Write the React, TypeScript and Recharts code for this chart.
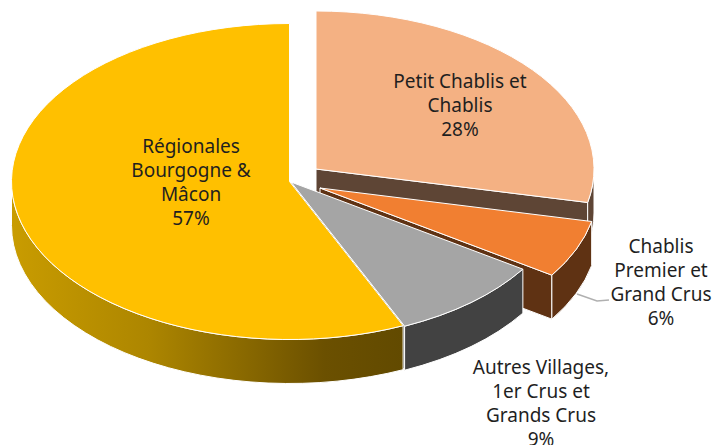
import { PieChart, Pie } from "recharts";

const categories = [
  "Petit Chablis et Chablis",
  "Chablis Premier et Grand Crus",
  "Autres Villages, 1er Crus et Grands Crus",
  "Régionales Bourgogne & Mâcon",
];
const labelLines = [
  ["Petit Chablis et", "Chablis"],
  ["Chablis", "Premier et", "Grand Crus"],
  ["Autres Villages,", "1er Crus et", "Grands Crus"],
  ["Régionales", "Bourgogne &", "Mâcon"],
];
const shares = [28.4, 5.9, 9.0, 56.7];
const percentLabels = ["28%", "6%", "9%", "57%"];

const topColors = ["#f4b183", "#f17f31", "#a5a5a5", "#ffc000"];
const wallColors = ["#5e4535", "#5f3213", "#424242", "url(#yellowWall)"];
const cutColors = ["#5e4535", "#5f3213", "#424242", "#6b5000"];

// explosion offset of each slice
const offsets = [
  [26.5, -12.5],
  [30.5, 6.5],
  [1.5, 0.5],
  [0, 0],
];
const labelCentres = [
  [460, 81],
  [661, 246],
  [541, 367],
  [191, 146],
];

const WIDTH = 715;
const HEIGHT = 445;
const CX = 289.5;
const CY = 181.5;
const RX = 278;
const RY = 158;
const DEPTH = 44;
const LINE = 24;
const RAD = Math.PI / 180;

const data = categories.map((name, i) => ({ name, value: shares[i], fill: topColors[i] }));

function Slice3D(props: any) {
  const i = categories.indexOf(props.name);
  const [dx, dy] = offsets[i];
  const cx = props.cx + dx;
  const cy = props.cy + dy;
  const rx = props.outerRadius;
  const ry = (rx * RY) / RX;
  const px = (a: number) => cx + rx * Math.cos(a * RAD);
  const py = (a: number) => cy - ry * Math.sin(a * RAD);
  const start = props.startAngle;
  const end = props.endAngle;
  const large = Math.abs(start - end) > 180 ? 1 : 0;

  // the round wall only shows on the front half of the ellipse
  const wallFrom = Math.min(start, 0);
  const wallTo = Math.max(end, -180);
  const hasWall = wallFrom > wallTo;
  // cut face shows when the slice ends on the front half
  const hasCut = end < 0 && end > -180;

  return (
    <g stroke="#fff" strokeWidth={1} strokeLinejoin="round">
      {hasCut && (
        <path
          fill={cutColors[i]}
          d={`M${cx},${cy}L${px(end)},${py(end)}L${px(end)},${py(end) + DEPTH}L${cx},${cy + DEPTH}Z`}
        />
      )}
      {hasWall && (
        <path
          fill={wallColors[i]}
          d={`M${px(wallFrom)},${py(wallFrom)}A${rx},${ry} 0 0 1 ${px(wallTo)},${py(wallTo)}L${px(wallTo)},${py(wallTo) + DEPTH}A${rx},${ry} 0 0 0 ${px(wallFrom)},${py(wallFrom) + DEPTH}Z`}
        />
      )}
      <path
        fill={props.fill}
        d={`M${cx},${cy}L${px(start)},${py(start)}A${rx},${ry} 0 ${large} 1 ${px(end)},${py(end)}Z`}
      />
    </g>
  );
}

function SliceLabel(props: any) {
  const i = categories.indexOf(props.name);
  const [x, y] = labelCentres[i];
  const lines = [...labelLines[i], percentLabels[i]];
  return (
    <g>
      {i === 1 && <polyline points="577,294 597,301 609,300" fill="none" stroke="#b0b0b0" strokeWidth={1.5} />}
      <text
        x={x}
        y={y}
        textAnchor="middle"
        dominantBaseline="central"
        fontFamily="'Noto Sans', sans-serif"
        fontSize={19}
        fill="#1f1f1f"
      >
        {lines.map((line, k) => (
          <tspan key={k} x={x} y={y + k * LINE}>
            {line}
          </tspan>
        ))}
      </text>
    </g>
  );
}

export default function App() {
  return (
    <div style={{ position: "absolute", left: 0, top: 0, width: WIDTH, height: HEIGHT, background: "#fff" }}>
      <PieChart width={WIDTH} height={HEIGHT} margin={{ top: 0, right: 0, bottom: 0, left: 0 }}>
        <defs>
          <linearGradient id="yellowWall" gradientUnits="userSpaceOnUse" x1={11} y1={0} x2={403} y2={0}>
            <stop offset="0%" stopColor="#c99c00" />
            <stop offset="35%" stopColor="#ad8600" />
            <stop offset="80%" stopColor="#6b5000" />
            <stop offset="100%" stopColor="#624a00" />
          </linearGradient>
        </defs>
        <Pie
          data={data}
          dataKey="value"
          nameKey="name"
          cx={CX}
          cy={CY}
          innerRadius={0}
          outerRadius={RX}
          startAngle={90}
          endAngle={-270}
          shape={Slice3D}
          label={SliceLabel}
          labelLine={false}
          isAnimationActive={false}
        />
      </PieChart>
    </div>
  );
}
